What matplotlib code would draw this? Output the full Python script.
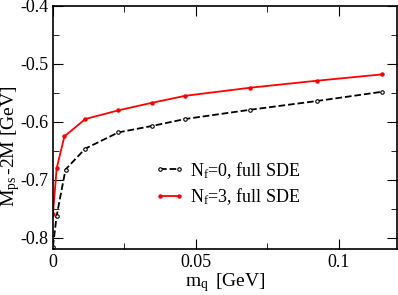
import matplotlib
matplotlib.use("Agg")
import matplotlib.pyplot as plt
from matplotlib.ticker import MultipleLocator

plt.rcParams['font.family'] = ['Liberation Serif', 'DejaVu Serif']
plt.rcParams['mathtext.fontset'] = 'custom'
plt.rcParams['mathtext.rm'] = 'Liberation Serif'
plt.rcParams['mathtext.it'] = 'Liberation Serif'

# quark mass values [GeV]
mq_nf0 = [0.0, 0.0013, 0.0044, 0.0113, 0.0229, 0.0346, 0.0462, 0.069, 0.0922, 0.1151]
mps_nf0 = [-0.815, -0.762, -0.682, -0.646, -0.618, -0.607, -0.595, -0.579, -0.564, -0.548]

mq_nf3 = [0.0, 0.0013, 0.004, 0.0113, 0.0229, 0.0346, 0.0462, 0.069, 0.0922, 0.1151]
mps_nf3 = [-0.759, -0.68, -0.625, -0.595, -0.58, -0.567, -0.555, -0.541, -0.529, -0.518]

fig = plt.figure(figsize=(3.98, 2.95), dpi=100)
ax = fig.add_axes([0.133, 0.156, 0.864, 0.824])

ax.plot(mq_nf0, mps_nf0, color='black', linestyle='--', linewidth=1.3,
        marker='o', markersize=2.5, markerfacecolor='white', markeredgewidth=0.8,
        label=r'N$_\mathrm{f}$=0, full SDE')
ax.plot(mq_nf3, mps_nf3, color='red', linestyle='-', linewidth=1.3,
        marker='o', markersize=2.2, label=r'N$_\mathrm{f}$=3, full SDE')

ax.set_xlim(0, 0.1202)
ax.set_ylim(-0.819, -0.4)
ax.xaxis.set_minor_locator(MultipleLocator(0.025))
ax.yaxis.set_minor_locator(MultipleLocator(0.05))
ax.set_xticks([0, 0.05, 0.1])
ax.set_xticklabels(['0', '0.05', '0.1'])
ax.set_yticks([-0.8, -0.7, -0.6, -0.5, -0.4])
ax.set_yticklabels(['-0.8', '-0.7', '-0.6', '-0.5', '-0.4'])
ax.tick_params(which='both', direction='in', top=True, right=True, labelsize=13)
ax.tick_params(which='major', length=7)
ax.tick_params(which='minor', length=4)
for s in ax.spines.values():
    s.set_linewidth(1.2)

ax.set_xlabel(r'm$_\mathrm{q}\,$ [GeV]', fontsize=14, labelpad=0)
fig.text(0.027, 0.505, r'M$_\mathrm{ps}\,$-2M [GeV]', fontsize=14,
         rotation=90, ha='center', va='center')

ax.legend(loc='center left', bbox_to_anchor=(0.247, 0.27), frameon=False,
          fontsize=13, handlelength=1.7, handletextpad=0.3, labelspacing=0.3,
          numpoints=2)

fig.savefig('out.png', dpi=100)
